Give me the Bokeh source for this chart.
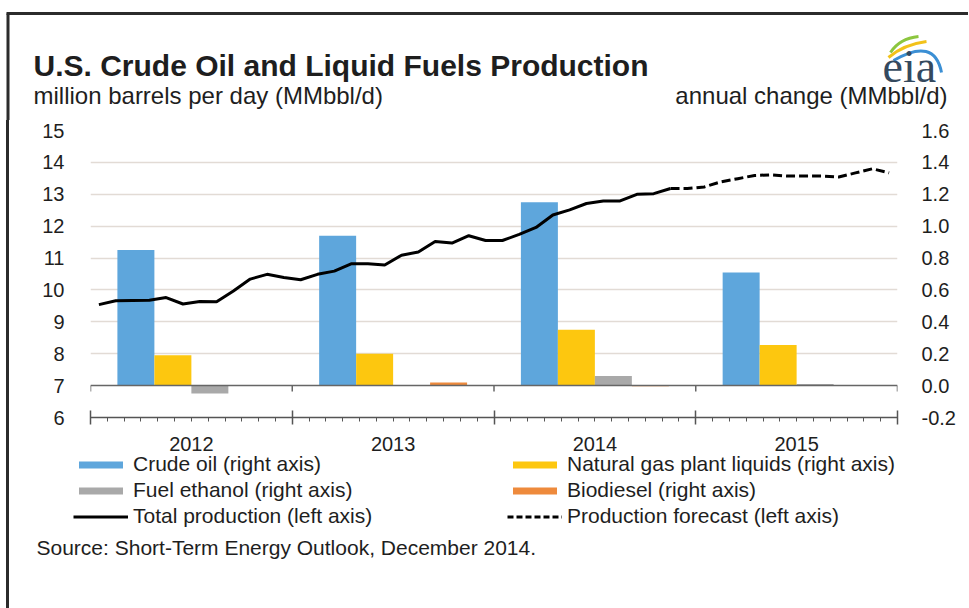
from bokeh.plotting import figure
from bokeh.models import (ColumnDataSource, Range1d, LinearAxis, FixedTicker,
                          PrintfTickFormatter, Label, Legend, LegendItem, Span)
from bokeh.embed import file_html
from bokeh.resources import INLINE

# ---------------- data ----------------
years = ["2012", "2013", "2014", "2015"]
crude_oil = [0.85, 0.94, 1.15, 0.71]          # annual change, MMbbl/d (right axis)
ngpl = [0.19, 0.20, 0.35, 0.255]
fuel_ethanol = [-0.05, 0.0, 0.06, 0.01]
biodiesel = [0.0, 0.02, -0.004, 0.0]

# monthly total production Jan 2012 .. Nov 2014 (left axis, MMbbl/d)
total_production = [9.54, 9.66, 9.67, 9.68, 9.76, 9.56, 9.64, 9.63, 9.97, 10.34, 10.49, 10.39,
                    10.32, 10.49, 10.59, 10.82, 10.82, 10.78, 11.09, 11.19, 11.52, 11.47, 11.70, 11.55,
                    11.55, 11.74, 11.96, 12.35, 12.51, 12.71, 12.79, 12.79, 13.00, 13.02, 13.18]
# forecast Nov 2014 .. Dec 2015
production_forecast = [13.18, 13.18, 13.23, 13.39, 13.49, 13.59, 13.61, 13.57, 13.57, 13.57,
                       13.54, 13.67, 13.80, 13.67]
forecast_start = 34   # month index where forecast begins (Nov 2014)

left_ticks = [6, 7, 8, 9, 10, 11, 12, 13, 14, 15]
right_ticks = [-0.2, 0.0, 0.2, 0.4, 0.6, 0.8, 1.0, 1.2, 1.4, 1.6]

# ---------------- geometry helpers ----------------
months_per_year = 12
n_months = months_per_year * len(years)
year_edges = [months_per_year * i for i in range(len(years) + 1)]
year_centers = [months_per_year * i + months_per_year // 2 for i in range(len(years))]
month_edges = list(range(n_months + 1))
bar_w = 2.2
offsets = [-1.5 * bar_w, -0.5 * bar_w, 0.5 * bar_w, 1.5 * bar_w]

FONT = "Liberation Sans"
TXT = "#1e1e1e"
BORDER = "#2b2b2b"
colors = ["#5ea6dc", "#fdc70f", "#a9a9a9", "#ee8a3c"]
NAN = float("nan")

# ---------------- header (title block) ----------------
HW, HH = 968, 120
header = figure(width=HW, height=HH, x_range=Range1d(0, HW), y_range=Range1d(HH, 0),
                x_axis_type=None, y_axis_type=None, output_backend="svg",
                toolbar_location=None, min_border=0)
header.outline_line_color = None
header.grid.visible = False
header.background_fill_color = "white"

# frame of the whole graphic (top and left edges)
header.segment(x0=[6, 7.5], y0=[13, 13], x1=[HW, 7.5], y1=[13, HH],
               line_color=BORDER, line_width=3)

def add_lab(fig, text, x, y, size, bold=False, align="left", font=FONT, color=TXT):
    fig.add_layout(Label(x=x, y=y, text=text, text_font=font, text_font_size=size,
                         text_color=color, text_font_style="bold" if bold else "normal",
                         text_align=align, text_baseline="middle"))

add_lab(header, "U.S. Crude Oil and Liquid Fuels Production", 33, 65, "30px", bold=True)
add_lab(header, "million barrels per day (MMbbl/d)", 33, 95, "24px")
add_lab(header, "annual change (MMbbl/d)", 947, 95, "24px", align="right")
add_lab(header, "eia", 882, 66, "46px", font="Liberation Serif", color="#34495e")
# eia swoosh
header.quadratic(x0=[890, 888, 893], y0=[52, 57, 60], x1=[918, 926, 941], y1=[36, 41, 72],
                 cx=[899, 903, 934], cy=[38, 44, 36],
                 line_color=["#8cc63f", "#f2c21a", "#3b8fd4"], line_width=3)

# ---------------- main chart ----------------
p = figure(width=956, height=339, x_range=Range1d(0, n_months), y_range=Range1d(6, 15),
           output_backend="svg", toolbar_location=None,
           min_border_left=81, min_border_right=68, min_border_top=10, min_border_bottom=42,
           margin=(0, 0, 0, 6), styles={"border-left": f"3px solid {BORDER}"})
p.outline_line_color = None
p.background_fill_color = "white"
p.border_fill_color = "white"
p.xgrid.visible = False
p.ygrid.ticker = FixedTicker(ticks=[t for t in left_ticks if t >= 8])
p.ygrid.grid_line_color = "#e2dbd5"
p.ygrid.grid_line_width = 1.5

p.extra_y_ranges = {"right": Range1d(-0.2, 1.6)}

# left axis
ya = p.yaxis[0]
ya.ticker = FixedTicker(ticks=left_ticks)
ya.axis_line_color = None
ya.major_tick_line_color = None
ya.minor_tick_line_color = None
ya.major_label_standoff = 20
ya.major_label_text_font = FONT
ya.major_label_text_font_size = "20px"
ya.major_label_text_color = TXT

# right axis
ra = LinearAxis(y_range_name="right", ticker=FixedTicker(ticks=right_ticks),
                formatter=PrintfTickFormatter(format="%.1f"))
ra.axis_line_color = None
ra.major_tick_line_color = None
ra.minor_tick_line_color = None
ra.major_label_standoff = 18
ra.major_label_text_font = FONT
ra.major_label_text_font_size = "20px"
ra.major_label_text_color = TXT
p.add_layout(ra, "right")

# bottom axis with year boundaries and monthly minor ticks
xa = p.xaxis[0]
xa.ticker = FixedTicker(ticks=year_edges, minor_ticks=month_edges)
xa.major_label_overrides = {e: "" for e in year_edges}
xa.major_label_text_font_size = "1px"
xa.major_label_standoff = 0
xa.axis_line_color = "#555555"
xa.axis_line_width = 1.5
xa.major_tick_line_color = "#555555"
xa.major_tick_line_width = 1.5
xa.major_tick_in = 7
xa.major_tick_out = 7
xa.minor_tick_line_color = "#555555"
xa.minor_tick_line_width = 1
xa.minor_tick_in = 0
xa.minor_tick_out = 4

# year labels axis
yr_axis = LinearAxis(ticker=FixedTicker(ticks=year_centers),
                     major_label_overrides={c: y for c, y in zip(year_centers, years)})
yr_axis.axis_line_color = None
yr_axis.major_tick_line_color = None
yr_axis.minor_tick_line_color = None
yr_axis.major_label_standoff = 6
yr_axis.major_label_text_font = FONT
yr_axis.major_label_text_font_size = "20px"
yr_axis.major_label_text_color = TXT
p.add_layout(yr_axis, "below")

# bars
series = [crude_oil, ngpl, fuel_ethanol, biodiesel]
for k, (vals, col) in enumerate(zip(series, colors)):
    src = ColumnDataSource(dict(x=[c + offsets[k] for c in year_centers], top=vals))
    p.vbar(x="x", top="top", bottom=0, width=bar_w, source=src, y_range_name="right",
           fill_color=col, line_color=None)

# zero line of right axis with year-boundary ticks
p.add_layout(Span(location=0, dimension="width", y_range_name="right",
                  line_color="#666666", line_width=1.5))
p.segment(x0=year_edges, y0=[0] * len(year_edges), x1=year_edges,
          y1=[-0.037] * len(year_edges), y_range_name="right",
          line_color="#666666", line_width=1.5)

# lines
mx = [i + 0.5 for i in range(len(total_production))]
p.line(mx, total_production, line_color="black", line_width=3)
fx = [forecast_start + i + 0.5 for i in range(len(production_forecast))]
p.line(fx, production_forecast, line_color="black", line_width=3, line_dash="9 4")

# ---------------- footer (legend + source) ----------------
FW, FH = 956, 156
footer = figure(width=FW, height=FH, x_range=Range1d(0, FW), y_range=Range1d(FH, 0),
                x_axis_type=None, y_axis_type=None, output_backend="svg",
                toolbar_location=None, min_border=0,
                margin=(-7, 0, 0, 6), styles={"border-left": f"3px solid {BORDER}"})
footer.outline_line_color = None
footer.grid.visible = False
footer.background_fill_alpha = 0
footer.border_fill_alpha = 0

# legend keys (styled like the chart's series; they hold no drawable data)
k_crude = footer.vbar(x=[NAN], top=[NAN], width=1, fill_color=colors[0], line_color=None)
k_ngpl = footer.vbar(x=[NAN], top=[NAN], width=1, fill_color=colors[1], line_color=None)
k_eth = footer.vbar(x=[NAN], top=[NAN], width=1, fill_color=colors[2], line_color=None)
k_bio = footer.vbar(x=[NAN], top=[NAN], width=1, fill_color=colors[3], line_color=None)
k_tot = footer.line(x=[NAN], y=[NAN], line_color="black", line_width=3)
k_fc = footer.line(x=[NAN], y=[NAN], line_color="black", line_width=3, line_dash="6 3")

def mk_legend(items, loc):
    lg = Legend(items=items, location=loc, orientation="vertical",
                glyph_width=55, glyph_height=9, label_standoff=5, label_height=24,
                spacing=2, padding=0, margin=0, border_line_color=None,
                background_fill_alpha=0, label_text_font=FONT,
                label_text_font_size="21px", label_text_color=TXT)
    footer.add_layout(lg)

mk_legend([LegendItem(label="Crude oil (right axis)", renderers=[k_crude]),
           LegendItem(label="Fuel ethanol (right axis)", renderers=[k_eth]),
           LegendItem(label="Total production (left axis)", renderers=[k_tot])], (64, 80))
mk_legend([LegendItem(label="Natural gas plant liquids (right axis)", renderers=[k_ngpl]),
           LegendItem(label="Biodiesel (right axis)", renderers=[k_bio]),
           LegendItem(label="Production forecast (left axis)", renderers=[k_fc])], (498, 80))

add_lab(footer, "Source: Short-Term Energy Outlook, December 2014.", 27, 95, "21px")

open("out.html", "w").write(file_html([header, p, footer], INLINE))
